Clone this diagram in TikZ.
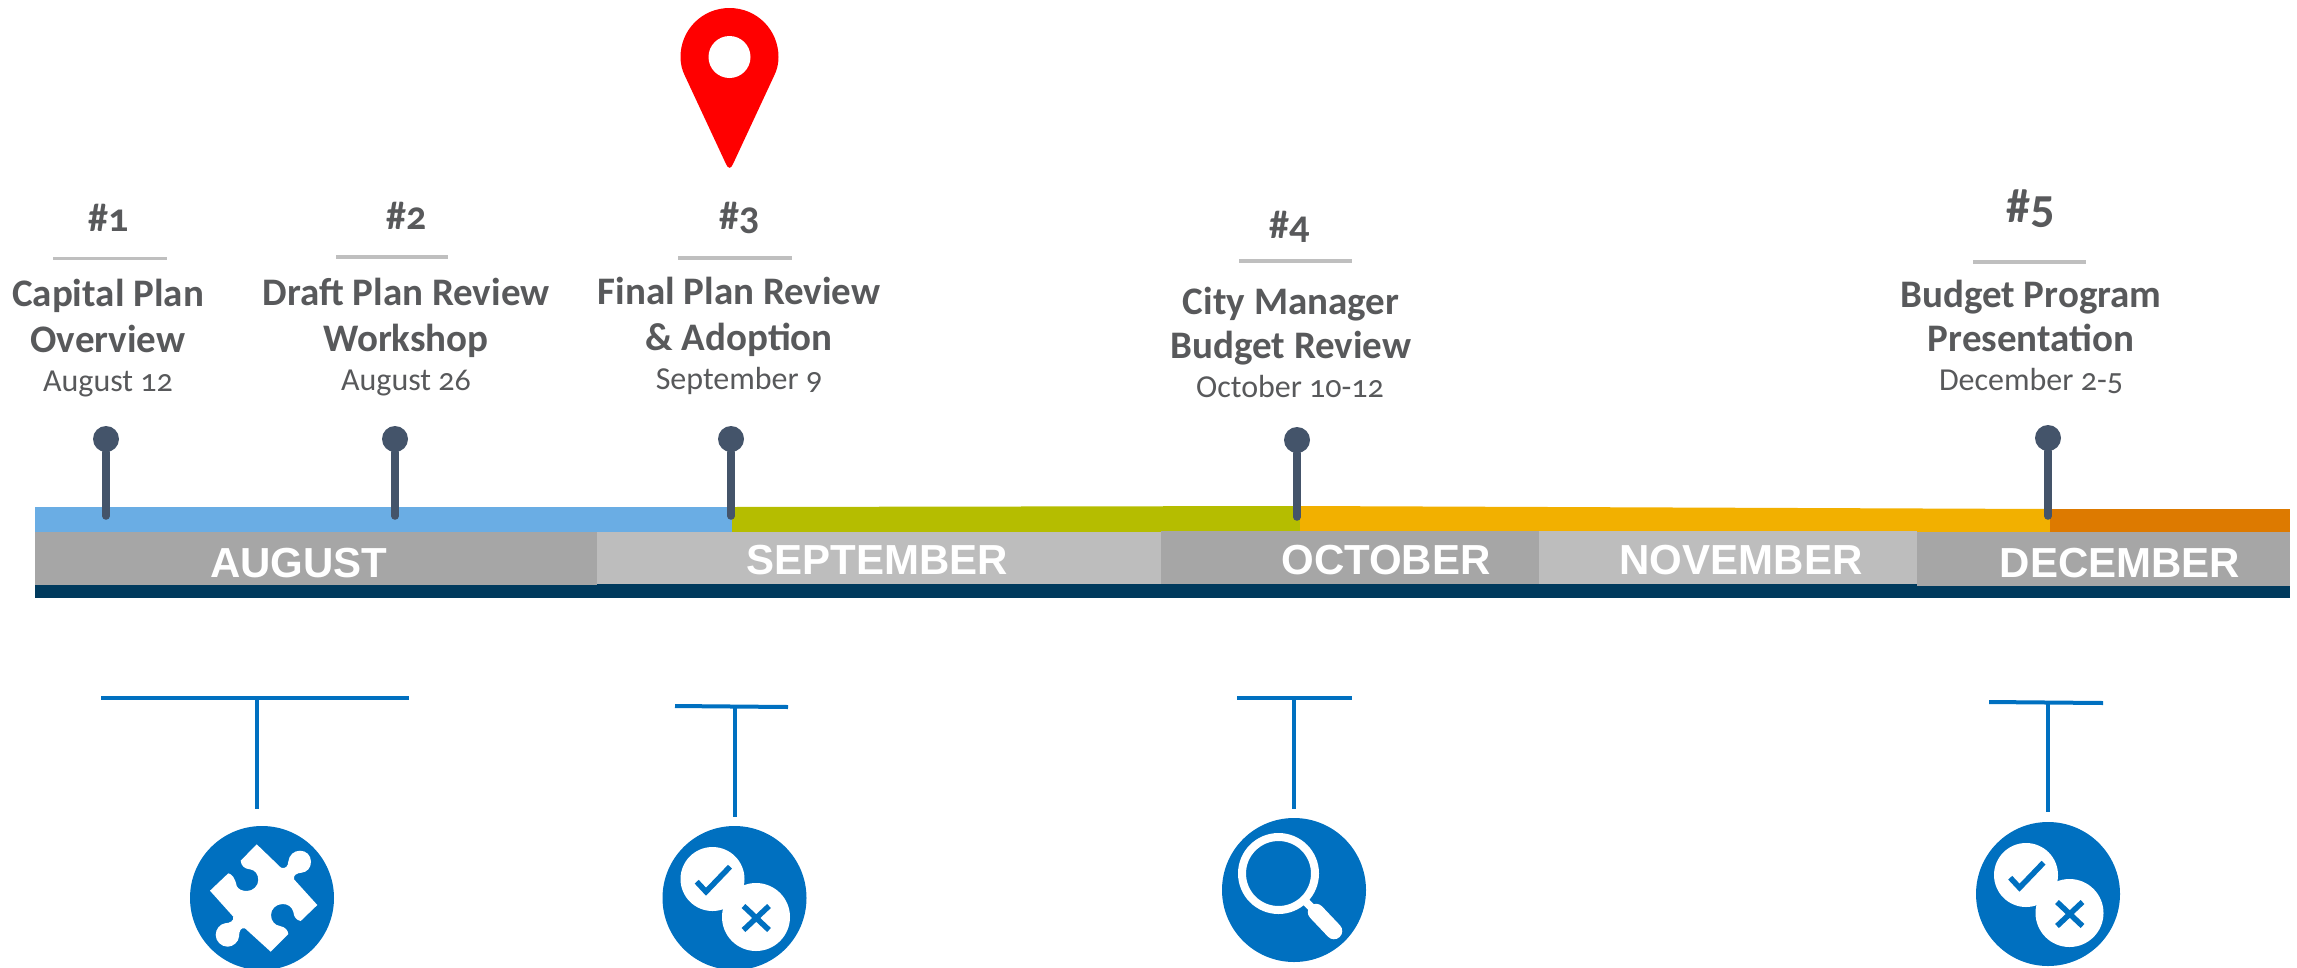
\documentclass[tikz,border=0pt]{standalone}
\usepackage{fontspec}
\setmainfont[Numbers=OldStyle]{Carlito}
\newfontfamily\monthfont{Liberation Sans}

\definecolor{bandblue}{HTML}{6AADE4}
\definecolor{bandgreen}{HTML}{B5BD00}
\definecolor{bandamber}{HTML}{F2B000}
\definecolor{bandorange}{HTML}{DD7A00}
\definecolor{monthdark}{HTML}{A6A6A6}
\definecolor{monthlight}{HTML}{BDBDBD}
\definecolor{navybar}{HTML}{003A5D}
\definecolor{pinslate}{HTML}{44546A}
\definecolor{iconblue}{HTML}{0070C0}
\definecolor{textgrey}{HTML}{58595B}
\definecolor{rulegrey}{HTML}{BFBFBF}

\tikzset{
	num/.style={anchor=base,text=textgrey,font=\fontsize{40}{40}\selectfont\bfseries,inner sep=0pt},
	title/.style={anchor=base,text=textgrey,font=\fontsize{39}{39}\selectfont\bfseries,inner sep=0pt},
	date/.style={anchor=base,text=textgrey,font=\fontsize{32}{32}\selectfont,inner sep=0pt},
	month/.style={text=white,font=\fontsize{42}{42}\selectfont\monthfont\bfseries,inner sep=0pt},
	pinhead/.style={circle,fill=pinslate,minimum size=26pt,inner sep=0pt},
	pinstem/.style={pinslate,line width=7.5pt,line cap=round},
	rulebar/.style={rulegrey,line width=3.5pt},
	teebar/.style={iconblue,line width=4pt},
	teestem/.style={iconblue,line width=3.5pt},
	disc/.style={circle,fill=iconblue,minimum size=144pt,inner sep=0pt},
	whitedisc/.style={circle,fill=white,inner sep=0pt}
}

\begin{document}
\begin{tikzpicture}[x=1pt,y=-1pt]

			\clip (0,0) rectangle (2297,967);

			% colour band
			\fill [bandblue] (35,507) rectangle (732,533);
			\fill [bandgreen] (732,507) -- (1300,506) -- (1300,533) -- (732,533) -- cycle;
			\fill [bandamber] (1300,506) -- (2050,509) -- (2050,533) -- (1300,533) -- cycle;
			\fill [bandorange] (2050,509) rectangle (2290,533);

			% months
			\fill [navybar] (35,584) rectangle (2290,598);
			\fill [monthdark] (35,532) rectangle (597,585);
			\fill [monthlight] (597,532) rectangle (1161,584);
			\fill [monthdark] (1161,531) rectangle (1539,584);
			\fill [monthlight] (1539,531) rectangle (1917,584);
			\fill [monthdark] (1917,532) rectangle (2290,586);

			\node[month] (aug) at (299,563) {AUGUST};
			\node[month] (sep) at (877,560) {SEPTEMBER};
			\node[month] (oct) at (1386,560) {OCTOBER};
			\node[month] (nov) at (1741,560) {NOVEMBER};
			\node[month] (dec) at (2120,563) {DECEMBER};

			% pins on the band
			\node[pinhead] (head1) at (106,439) {};
			\node[pinhead] (head2) at (395,439) {};
			\node[pinhead] (head3) at (731,439) {};
			\node[pinhead] (head4) at (1297,440) {};
			\node[pinhead] (head5) at (2048,438) {};

			\coordinate (foot1) at (106,516);
			\coordinate (foot2) at (395,516);
			\coordinate (foot3) at (731,516);
			\coordinate (foot4) at (1297,517);
			\coordinate (foot5) at (2048,516);

			\draw [pinstem] (head1) -- (foot1);
			\draw [pinstem] (head2) -- (foot2);
			\draw [pinstem] (head3) -- (foot3);
			\draw [pinstem] (head4) -- (foot4);
			\draw [pinstem] (head5) -- (foot5);

			% milestone texts
			\node[num] (num1) at (109,231) {\#1};
			\draw [rulebar] (53,258.5) -- (167,258.5);
			\node[title] (cap1) at (108,306) {Capital Plan};
			\node[title] (cap2) at (108,352) {Overview};
			\node[date] (day1) at (108,391) {August 12};

			\node[num] (num2) at (407,229) {\#2};
			\draw [rulebar] (336,257) -- (448,257);
			\node[title] (dra1) at (406,305) {Draft Plan Review};
			\node[title] (dra2) at (406,351) {Workshop};
			\node[date] (day2) at (406,390) {August 26};

			\node[num] (num3) at (740,229) {\#3};
			\draw [rulebar] (678,258) -- (792,258);
			\node[title] (fin1) at (739,304) {Final Plan Review};
			\node[title] (fin2) at (739,350) {\& Adoption};
			\node[date] (day3) at (739,389) {September 9};

			\node[num] (num4) at (1290,238) {\#4};
			\draw [rulebar] (1239,261) -- (1352,261);
			\node[title] (cit1) at (1291,314) {City Manager};
			\node[title] (cit2) at (1291,358) {Budget Review};
			\node[date] (day4) at (1290,397) {October 10-12};

			\node[num,font=\fontsize{48}{48}\selectfont\bfseries] (num5) at (2031,222) {\#5};
			\draw [rulebar] (1973,262) -- (2086,262);
			\node[title] (bud1) at (2031,307) {Budget Program};
			\node[title] (bud2) at (2031,351) {Presentation};
			\node[date] (day5) at (2031,390) {December 2-5};

			% red location marker
			\fill [red] (726,164) -- (685,76) .. controls (682,70) and (680.5,64) .. (680.5,57)
				.. controls (680.5,30) and (702,8) .. (729.5,8)
				.. controls (757,8) and (778.5,30) .. (778.5,57)
				.. controls (778.5,64) and (777,70) .. (774,76)
				-- (733,164) .. controls (731,169) and (728,169) .. (726,164) -- cycle;
			\node[whitedisc,minimum size=42pt] (hole) at (729.5,57) {};

			% tees above the icons
			\coordinate (bar1l) at (101,698);
			\coordinate (bar1r) at (409,698);
			\coordinate (bar1m) at (257,698);
			\coordinate (bar1b) at (257,809);
			\draw [teebar] (bar1l) -- (bar1r);
			\draw [teestem] (bar1m) -- (bar1b);

			\coordinate (bar3l) at (675,706);
			\coordinate (bar3r) at (788,707);
			\coordinate (bar3m) at (735,707);
			\coordinate (bar3b) at (735,817);
			\draw [teebar] (bar3l) -- (bar3r);
			\draw [teestem] (bar3m) -- (bar3b);

			\coordinate (bar4l) at (1237,698);
			\coordinate (bar4r) at (1352,698);
			\coordinate (bar4m) at (1294,698);
			\coordinate (bar4b) at (1294,809);
			\draw [teebar] (bar4l) -- (bar4r);
			\draw [teestem] (bar4m) -- (bar4b);

			\coordinate (bar5l) at (1989,702);
			\coordinate (bar5r) at (2103,703);
			\coordinate (bar5m) at (2048,703);
			\coordinate (bar5b) at (2048,812);
			\draw [teebar] (bar5l) -- (bar5r);
			\draw [teestem] (bar5m) -- (bar5b);

			% puzzle icon
			\node[disc] (puzzle) at (262,898) {};
			\fill [white] (256.7,844.3) -- (281,867.7)
				.. controls (286,869) and (288,866) .. (288.3,861.7)
				.. controls (289,855) and (294,850.7) .. (300,850.7)
				.. controls (306,850.7) and (311,855) .. (311,861.7)
				.. controls (311,868) and (307,872) .. (301.7,872.7)
				.. controls (297,873) and (293,875) .. (294,879.3)
				-- (317.3,905) -- (300.7,921)
				.. controls (296,920) and (294,917) .. (293.3,911.7)
				.. controls (292,907) and (288,904) .. (282.7,904)
				.. controls (276,904) and (271,909) .. (271,915)
				.. controls (271,921) and (275,925.5) .. (280,926)
				.. controls (285,927) and (288,930) .. (288.3,934)
				-- (270.7,951.7) -- (245,928.3)
				.. controls (241,927) and (239,931) .. (239,936.7)
				.. controls (238.5,942) and (233,946.7) .. (227.7,946.7)
				.. controls (221,946.7) and (215.7,941) .. (215.7,935)
				.. controls (215.7,929) and (220,924) .. (225,923.3)
				.. controls (230,923) and (234,921) .. (233.3,916.7)
				-- (210,890.7) -- (228.3,873.3)
				.. controls (232,874) and (235,878) .. (236.7,886)
				.. controls (238,889) and (242,891) .. (246.7,891)
				.. controls (253,891) and (258.3,886) .. (258.3,880)
				.. controls (258.3,874) and (255,870) .. (250,869.3)
				.. controls (245,869) and (241,866) .. (240.7,860.7)
				-- cycle;

			% check and cross icon
			\node[disc] (vote3) at (734.5,898) {};
			\node[whitedisc,minimum size=64pt] (yes3) at (712.5,879) {};
			\node[whitedisc,minimum size=68pt] (no3) at (756,917) {};
			\draw [iconblue,line width=5.5pt] (696.7,881.7) -- (706,891.7) -- (730,866.7);
			\draw [iconblue,line width=5.5pt] (743.5,906) -- (769,930);
			\draw [iconblue,line width=5.5pt] (769,906) -- (743.5,930);

			% magnifier icon
			\node[disc] (lens) at (1294,890) {};
			\node[circle,draw=white,line width=8pt,minimum size=73pt,inner sep=0pt] (ring) at (1278.5,873.5) {};
			\draw [white,line width=8pt] (1306,902) -- (1316,912);
			\draw [white,line width=16.5pt,line cap=round] (1316,912) -- (1334,931);

			% check and cross icon
			\node[disc] (vote5) at (2048,894) {};
			\node[whitedisc,minimum size=64pt] (yes5) at (2026,875) {};
			\node[whitedisc,minimum size=68pt] (no5) at (2069.5,913) {};
			\draw [iconblue,line width=5.5pt] (2010.2,877.7) -- (2019.5,887.7) -- (2043.5,862.7);
			\draw [iconblue,line width=5.5pt] (2057,902) -- (2082.5,926);
			\draw [iconblue,line width=5.5pt] (2082.5,902) -- (2057,926);

	\end{tikzpicture}
\end{document}
